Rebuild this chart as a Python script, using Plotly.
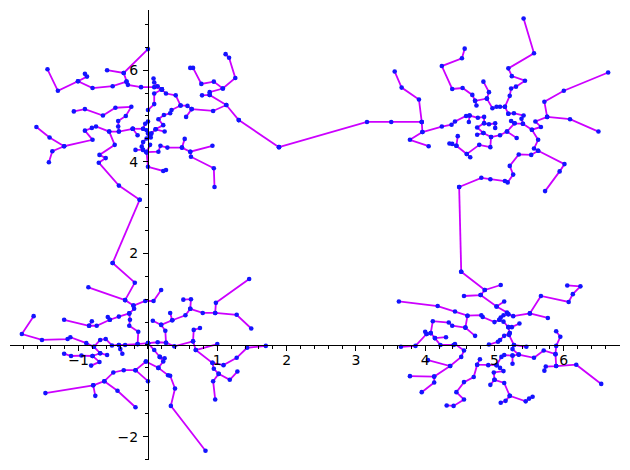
import plotly.graph_objects as go

# Each cluster is a set of branches; None separates branches.
def join(branches):
    xs, ys = [], []
    for b in branches:
        for p in b:
            xs.append(p[0]); ys.append(p[1])
        xs.append(None); ys.append(None)
    return xs, ys

trunk = [
    [(-.12,3.17),(-.51,1.79)],
    [(1.89,4.32),(3.16,4.87),(3.51,4.87),(3.95,4.87)],
    [(4.49,3.45),(4.52,1.60)],
    [(1.31,4.91),(1.89,4.32)],
]

north_west = [
    [(0,6.46),(-.35,5.94),(-.59,6.00)],
    [(-.35,5.94),(-.31,5.75),(-.29,5.68),(-.10,5.63),(.09,5.63),(.20,5.58)],
    [(-.31,5.75),(-.51,5.65),(-.80,5.61),(-1.01,5.76),(-1.30,5.55),(-1.45,6.02)],
    [(-1.01,5.76),(-.88,5.86),(-.91,5.92)],
    [(.08,5.82),(.09,5.73),(.14,5.65),(.20,5.58)],
    [(.20,5.58),(.09,5.49),(.09,5.26),(0,5.13)],
    [(.20,5.58),(.26,5.49),(.40,5.45),(.47,5.23),(.57,5.22),(.63,5.15),(.55,4.98)],
    [(.63,5.15),(.94,5.11),(1.13,5.24),(1.31,4.91)],
    [(1.13,5.24),(.89,5.46),(.78,5.45)],
    [(.89,5.46),(.89,5.52),(1.08,5.60),(1.26,5.83),(1.17,6.27),(1.12,6.35)],
    [(1.08,5.60),(.95,5.75),(.77,5.70),(.65,6.05),(.61,6.05)],
    [(.47,5.23),(.34,5.13),(.32,5.06),(.23,5.02),(.15,4.93),(.22,4.80),(.11,4.71),(.05,4.62),(.04,4.53)],
    [(.11,4.71),(.24,4.66)],
    [(0,4.88),(-.04,4.83),(-.07,4.72),(-.02,4.69),(0,4.62),(.03,4.58)],
    [(-.22,4.72),(-.07,4.72)],
    [(-.22,4.72),(-.15,4.58)],
    [(-1.61,4.76),(-1.42,4.53),(-1.21,4.34),(-.80,4.48),(-.91,4.68),(-.81,4.74),(-.75,4.77),(-.56,4.66),(-.48,4.37),(-.70,4.15),(-.61,4.08),(-.71,3.98),(-.42,3.48),(-.12,3.17)],
    [(-1.21,4.34),(-1.38,4.23),(-1.43,3.99)],
    [(-.56,4.66),(-.42,4.66),(-.22,4.72)],
    [(-.42,4.66),(-.43,4.77),(-.43,4.89),(-.32,5.00),(-.24,5.20),(-.47,5.18),(-.65,5.01),(-.91,5.15),(-1.07,5.10)],
    [(-.02,4.21),(.15,4.22),(.18,4.35),(.28,4.31),(.49,4.31),(.53,4.50)],
    [(.49,4.31),(.61,4.22),(.93,4.35)],
    [(.61,4.22),(.62,4.11),(.95,3.86),(.96,3.45)],
    [(-.02,4.21),(-.07,4.26),(-.18,4.26)],
    [(-.07,4.26),(-.09,4.33),(-.07,4.43),(-.02,4.51),(.03,4.58)],
    [(-.02,4.21),(0,3.89),(.22,3.80),(.26,3.82)],
    [(.03,4.37),(-.02,4.21)],
]

south_west = [
    [(-.51,1.79),(-.19,1.36),(-.33,.98),(-.21,.86),(-.20,.79),(-.27,.69),(-.42,.62),(-.55,.55),(-.58,.61)],
    [(-.33,.98),(-.86,1.26)],
    [(-.21,.86),(-.04,.96),(.08,.96),(.19,1.20)],
    [(-.55,.55),(-.74,.42),(-.85,.42),(-.81,.52)],
    [(-.85,.42),(-1.21,.55)],
    [(-.27,.69),(-.26,.55),(-.27,.42),(-.14,.29),(-.15,.02),(0,.04)],
    [(-.15,.02),(-.33,0),(-.42,0),(-.52,-.01),(-.61,.13),(-.69,.11),(-.78,-.04),(-.89,.04),(-1.12,.17),(-1.16,.13),(-1.53,.11),(-1.82,.24),(-1.65,.63)],
    [(-.78,-.04),(-.69,-.18),(-.59,-.22)],
    [(-.69,-.18),(-.80,-.24),(-.70,-.37),(-.82,-.45)],
    [(-.80,-.24),(-.96,-.23),(-1.11,-.24),(-1.21,-.19)],
    [(-.42,0),(-.40,-.09),(-.37,-.19)],
    [(-.03,-.36),(-.18,-.55),(-.35,-.55),(-.50,-.60),(-.63,-.79),(-.79,-.88),(-1.48,-1.05)],
    [(-.79,-.88),(-.76,-1.11)],
    [(-.63,-.79),(-.44,-1.00),(-.18,-1.36)],
    [(-.18,-.55),(0,-.79)],
    [(-.03,-.36),(.15,-.50),(.22,-.36),(.17,-.26),(.09,-.11),(0,.04)],
    [(.24,-.29),(.17,-.26)],
    [(.15,-.50),(.29,-.66),(.32,-.67),(.39,-.95),(.33,-1.33),(.83,-2.31)],
    [(0,.04),(.14,.06),(.26,.05),(.38,-.03),(.65,.08),(.66,.33),(.75,.37)],
    [(.65,.08),(.69,-.11),(1.00,.02)],
    [(.69,-.11),(.93,-.39),(1.09,-.44),(1.28,-.28),(1.43,-.06),(1.70,-.02)],
    [(.93,-.39),(.95,-.52),(1.02,-.63),(1.18,-.76),(1.29,-.58)],
    [(1.02,-.63),(.94,-.79),(.97,-1.19)],
    [(.26,.05),(.25,.31),(.19,.44),(.07,.53)],
    [(.19,.44),(.35,.54),(.32,.70)],
    [(.35,.54),(.54,.65),(.61,.79),(.62,1.00),(.51,.99)],
    [(.61,.79),(.79,.70),(.97,.70),(1.28,.66),(1.49,.36)],
    [(.97,.70),(.98,.92),(1.46,1.44)],
]

north_east = [
    [(3.95,4.87),(3.91,5.36),(3.66,5.62),(3.56,5.97)],
    [(3.95,4.87),(3.96,4.65),(3.78,4.48),(4.05,4.34)],
    [(3.96,4.65),(4.24,4.77),(4.38,4.81),(4.43,4.88),(4.59,5.00),(4.64,5.01),(4.76,4.96),(4.85,4.98),(4.85,4.84),(4.92,4.82),(5.01,4.84),(5.01,4.74)],
    [(4.64,5.01),(4.63,4.87)],
    [(4.85,4.84),(4.75,4.75),(4.84,4.63),(4.95,4.54),(5.08,4.58),(5.18,4.66)],
    [(4.84,4.63),(4.75,4.59)],
    [(4.95,4.54),(4.94,4.32),(4.78,4.37),(4.60,4.17),(4.65,4.10)],
    [(4.60,4.17),(4.45,4.35),(4.47,4.56)],
    [(4.45,4.35),(4.39,4.39),(4.35,4.40)],
    [(4.57,6.47),(4.53,6.26),(4.24,6.09),(4.39,5.59),(4.54,5.61),(4.68,5.46),(4.72,5.33),(4.74,5.23)],
    [(4.72,5.33),(4.89,5.38),(4.92,5.52),(4.84,5.75)],
    [(4.89,5.38),(4.97,5.17),(5.03,5.20),(5.08,5.20),(5.15,5.20),(5.20,5.05)],
    [(5.42,7.13),(5.57,6.37),(5.20,6.04),(5.25,5.87),(5.44,5.77),(5.31,5.64),(5.24,5.60),(5.22,5.44),(5.15,5.20)],
    [(5.20,5.05),(5.28,5.06),(5.42,5.01),(5.39,4.94),(5.41,4.83),(5.29,4.84),(5.24,4.89)],
    [(5.29,4.84),(5.18,4.66),(5.32,4.52)],
    [(5.41,4.83),(5.54,4.70),(5.67,4.76),(5.59,4.88),(5.76,4.98),(5.72,5.31),(6.00,5.55),(6.64,5.95)],
    [(5.76,4.98),(6.09,4.93),(6.50,4.66)],
    [(5.54,4.70),(5.63,4.48),(5.57,4.29),(5.63,4.24),(5.53,4.15),(5.35,4.16),(5.22,3.91),(5.27,3.72),(5.19,3.55),(5.15,3.58),(4.94,3.62),(4.81,3.65),(4.49,3.45)],
    [(5.63,4.24),(6.01,3.95),(5.94,3.79),(5.73,3.36)],
]

south_east = [
    [(4.52,1.60),(4.86,1.20),(5.09,1.31)],
    [(4.86,1.20),(4.80,1.09),(4.56,1.07)],
    [(4.80,1.09),(5.03,.84),(5.14,.95)],
    [(5.03,.84),(5.18,.71),(5.20,.67),(5.27,.63),(5.51,.69),(5.67,1.07),(6.07,.94),(6.13,1.11),(6.24,1.28),(6.05,1.30)],
    [(5.51,.69),(5.77,.59)],
    [(5.20,.67),(5.13,.65),(5.09,.60),(5.07,.55),(5.00,.50),(4.83,.61),(4.81,.65),(4.61,.64),(4.43,.73),(4.18,.85),(3.62,.95)],
    [(5.07,.55),(5.13,.51),(5.20,.39),(5.25,.39),(5.36,.47)],
    [(5.20,.39),(5.22,.26),(5.14,.20),(5.08,.11),(5.05,.07),(4.92,.01)],
    [(5.22,.26),(5.21,.22),(5.28,0),(5.46,-.04)],
    [(5.28,0),(5.26,-.09),(5.35,-.21),(5.57,-.28),(5.71,-.12),(5.88,-.20),(5.89,-.02),(5.95,.18),(5.89,.30)],
    [(5.88,-.20),(5.89,-.46),(5.74,-.47),(5.72,-.56)],
    [(5.89,-.46),(6.18,-.43),(6.54,-.85)],
    [(5.35,-.21),(5.26,-.23),(5.14,-.22),(5.10,-.26),(5.03,-.44),(5.08,-.50),(5.13,-.57),(4.99,-.60),(5.00,-.76),(5.14,-.83),(5.22,-1.11),(5.45,-1.23),(5.50,-1.17),(5.55,-1.13)],
    [(5.26,-.23),(5.26,-.41)],
    [(5.22,-1.11),(5.16,-1.22),(5.09,-1.26)],
    [(5.00,-.76),(4.94,-.87)],
    [(5.03,-.44),(4.91,-.44),(4.75,-.43),(4.79,-.31)],
    [(4.75,-.43),(4.70,-.70),(4.56,-.81),(4.45,-1.03),(4.56,-1.19),(4.41,-1.33),(4.31,-1.32)],
    [(4.61,.64),(4.58,.38),(4.72,.20)],
    [(4.58,.38),(4.39,.42),(4.34,.49),(4.11,.52),(4.08,.26),(4.02,.24),(4.00,.29)],
    [(4.02,.24),(3.86,-.02),(3.65,-.04)],
    [(4.08,.26),(4.14,.15),(4.30,.17)],
    [(4.14,.15),(4.22,0),(4.41,0),(4.43,.02),(4.56,-.12),(4.52,-.26),(4.36,-.46),(4.04,-.33)],
    [(4.36,-.46),(4.13,-.69),(3.78,-.68)],
    [(4.13,-.69),(4.13,-.82),(3.95,-1.03)],
]

x_ticks = [-1, 1, 2, 3, 4, 5, 6]
y_ticks = [-2, 2, 4, 6]
x_minor = [i / 5 for i in range(-9, 34)]
y_minor = [i / 2 for i in range(-5, 15)]
x_range = [-1.991, 6.811]
y_range = [-2.511, 7.314]

fig = go.Figure()
all_x, all_y = join(trunk + north_west + south_west + north_east + south_east)
fig.add_trace(go.Scatter(x=all_x, y=all_y, mode="lines", line=dict(color="#cc00ff", width=1.8),
                         hoverinfo="skip", showlegend=False))
fig.add_trace(go.Scatter(x=all_x, y=all_y, mode="markers", marker=dict(color="#1414ff", size=4.6),
                         hoverinfo="skip", showlegend=False))

font = dict(family="DejaVu Sans", size=14, color="black")
fig.update_layout(
    width=614, height=454, margin=dict(l=2, r=2, t=2, b=2),
    paper_bgcolor="white", plot_bgcolor="white", showlegend=False,
    xaxis=dict(range=x_range, anchor="free", position=2.511 / 9.825, showgrid=False, zeroline=False,
               showline=True, linecolor="black", linewidth=1.3, ticks="outside", ticklen=5, tickwidth=1,
               tickcolor="black", tickmode="array", tickvals=x_ticks, ticklabelstandoff=-3,
               ticktext=["\u22121", "1", "2", "3", "4", "5", "6"], tickfont=font,
               minor=dict(tickmode="array", tickvals=x_minor, ticks="outside", ticklen=3, tickwidth=1, tickcolor="black", showgrid=False)),
    yaxis=dict(range=y_range, anchor="free", position=138 / 610, showgrid=False, zeroline=False,
               showline=True, linecolor="black", linewidth=1.3, ticks="outside", ticklen=5, tickwidth=1,
               tickcolor="black", tickmode="array", tickvals=y_ticks, ticklabelstandoff=2,
               ticktext=["\u22122", "2", "4", "6"], tickfont=font,
               minor=dict(tickmode="array", tickvals=y_minor, ticks="outside", ticklen=3, tickwidth=1, tickcolor="black", showgrid=False)),
)
fig.write_html("out.html")
